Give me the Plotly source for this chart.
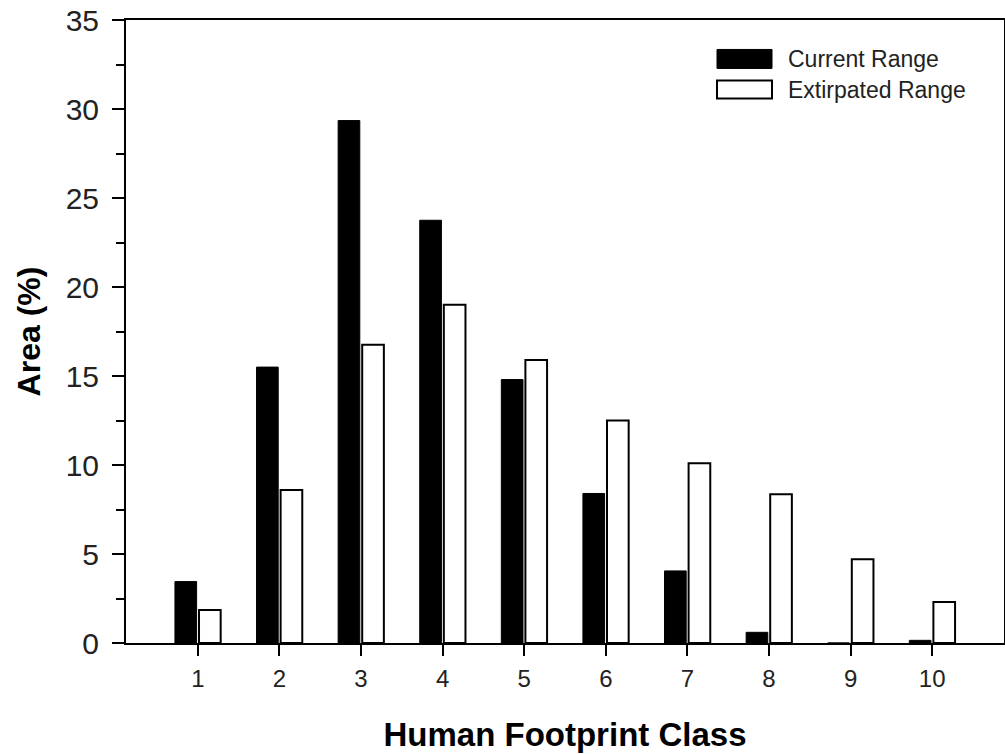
import plotly.graph_objects as go

# Data
classes = [1, 2, 3, 4, 5, 6, 7, 8, 9, 10]
class_labels = ["1", "2", "3", "4", "5", "6", "7", "8", "9", "10"]
current_range = [3.45, 15.5, 29.35, 23.75, 14.8, 8.4, 4.05, 0.6, 0.0, 0.15]
extirpated_range = [1.85, 8.6, 16.75, 19.0, 15.9, 12.5, 10.1, 8.35, 4.7, 2.3]
series_names = ["Current Range", "Extirpated Range"]
y_ticks = [0, 5, 10, 15, 20, 25, 30, 35]

FONT = "Liberation Sans, Arial, sans-serif"

fig = go.Figure()
fig.add_trace(go.Bar(
    x=classes, y=current_range, name=series_names[0],
    marker=dict(color="black", line=dict(color="black", width=1)),
    showlegend=False,
))
fig.add_trace(go.Bar(
    x=classes, y=extirpated_range, name=series_names[1],
    marker=dict(color="white", line=dict(color="black", width=2)),
    showlegend=False,
))

# the page body margin is removed (see post_script), so the figure sits at (0, 0)
W, H = 1005, 754
L, R, T, B = 126, 1, 19.5, 110.7
pw, ph = W - L - R, H - T - B

def px(x):
    return (x - L) / pw

def py(y):
    return (H - B - y) / ph

# Manual legend (box-shaped swatches like the reference)
shapes = [
    dict(type="rect", xref="paper", yref="paper",
         x0=px(717), x1=px(772), y0=py(68), y1=py(49),
         fillcolor="black", line=dict(color="black", width=1)),
    dict(type="rect", xref="paper", yref="paper",
         x0=px(717), x1=px(772), y0=py(98), y1=py(80),
         fillcolor="white", line=dict(color="black", width=2)),
]
annotations = [
    dict(xref="paper", yref="paper", x=px(786), y=py(58.5), text=series_names[0],
         showarrow=False, xanchor="left", yanchor="middle",
         font=dict(family=FONT, size=23, color="#222")),
    dict(xref="paper", yref="paper", x=px(786), y=py(89.5), text=series_names[1],
         showarrow=False, xanchor="left", yanchor="middle",
         font=dict(family=FONT, size=23, color="#222")),
]

fig.update_layout(
    width=W, height=H,
    margin=dict(l=L, r=R, t=T, b=B, pad=0, autoexpand=False),
    paper_bgcolor="white", plot_bgcolor="white",
    barmode="group", bargap=0.41, bargroupgap=0.1,
    shapes=shapes, annotations=annotations,
    font=dict(family=FONT, color="#222"),
    showlegend=False,
)
fig.update_xaxes(
    range=[0.12, 10.88], automargin=False,
    tickmode="array", tickvals=classes, ticktext=class_labels,
    ticks="outside", ticklen=11, tickwidth=2, tickcolor="black",
    showline=True, linewidth=2, linecolor="black", mirror=True,
    showgrid=False, zeroline=False,
    tickfont=dict(family=FONT, size=24, color="#222"),
    ticklabelstandoff=2,
    title=dict(text="<b>Human Footprint Class</b>", standoff=32,
               font=dict(family=FONT, size=33, color="black")),
)
fig.update_yaxes(
    range=[0, 35], automargin=False,
    tickmode="array", tickvals=y_ticks,
    ticks="outside", ticklen=12, tickwidth=2, tickcolor="black",
    minor=dict(dtick=2.5, tick0=0, ticks="outside", ticklen=8, tickwidth=2, tickcolor="black"),
    showline=True, linewidth=2, linecolor="black", mirror=True,
    showgrid=False, zeroline=False,
    tickfont=dict(family=FONT, size=30, color="#222"),
    ticklabelstandoff=7,
    ticklabeloverflow="allow",
    title=dict(text="<b>Area (%)</b>", standoff=15,
               font=dict(family=FONT, size=32, color="black")),
)

fig.write_html(
    "out.html",
    config={"displayModeBar": False},
    post_script="document.body.style.margin='0';document.body.style.overflow='hidden';",
)
